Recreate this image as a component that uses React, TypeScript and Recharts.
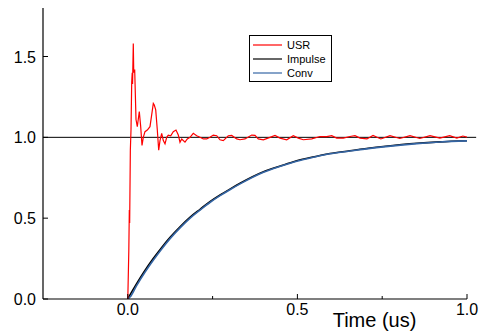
import { LineChart, Line, XAxis, YAxis, Legend, ReferenceLine, Label } from "recharts"

const FONT = "'Liberation Sans', Arial, sans-serif"

// axis ticks
const timeTicks = [0, 0.25, 0.5, 0.75, 1.0]
const majorTimeTicks = [0, 0.5, 1.0]
const valueTicks = [0, 0.5, 1.0, 1.5]

// USR (measured step response, red)
const usrTime = [
  0, 0.003, 0.0045, 0.0055, 0.0075, 0.0095, 0.0115, 0.013, 0.014, 0.0162, 0.0175, 0.0203,
  0.0242, 0.028, 0.0339, 0.038, 0.0419, 0.0457, 0.0507, 0.0575, 0.0654, 0.0705, 0.0752,
  0.0781, 0.0823, 0.087, 0.0911, 0.0949, 0.0999, 0.1047, 0.1097, 0.1147, 0.1194, 0.1265,
  0.1341, 0.1421, 0.1489, 0.1539, 0.1589, 0.1686, 0.1754, 0.1834, 0.1931, 0.2031, 0.2129,
  0.2226, 0.2326, 0.2423, 0.2521, 0.2621, 0.2718, 0.2815, 0.2963, 0.3063, 0.3211, 0.3308,
  0.3455, 0.3653, 0.375, 0.3847, 0.3995, 0.4192, 0.434, 0.4487, 0.4685, 0.4879, 0.5027,
  0.5174, 0.5422, 0.5666, 0.5864, 0.6011, 0.6159, 0.6353, 0.6551, 0.6698, 0.6846, 0.705,
  0.723, 0.746, 0.773, 0.802, 0.832, 0.861, 0.891, 0.92, 0.949, 0.97, 0.988, 1.003,
]
const usrValue = [
  0, 0.3, 0.55, 0.47, 0.92, 1.05, 1.34, 1.4, 1.33, 1.58, 1.4, 1.42,
  1.11, 1.066, 1.16, 1.066, 0.95, 1.0, 1.035, 1.045, 1.066, 1.14, 1.21,
  1.2, 1.17, 1.045, 0.92, 0.98, 1.025, 0.98, 0.96, 1.0, 1.014, 1.01,
  1.035, 1.045, 1.014, 0.97, 0.99, 0.97, 0.99, 1.0, 1.025, 1.01, 1.0,
  0.99, 0.99, 1.0, 1.014, 1.01, 0.985, 0.98, 1.01, 1.012, 0.99, 0.985,
  0.99, 1.014, 1.012, 0.99, 0.985, 1.0, 1.012, 0.995, 0.985, 1.01, 0.995,
  0.985, 0.99, 1.005, 1.005, 1.01, 0.995, 0.995, 1.005, 1.01, 0.995, 0.99,
  1.012, 0.99, 1.01, 0.993, 1.01, 0.993, 1.01, 0.995, 1.01, 0.995, 1.008, 1.0,
]

// Impulse (black) and Conv (blue) responses
const stepTime = [
  0, 0.0065, 0.026, 0.051, 0.075, 0.1, 0.124, 0.154, 0.183, 0.213, 0.242, 0.272, 0.301,
  0.331, 0.4, 0.45, 0.498, 0.55, 0.596, 0.655, 0.685, 0.753, 0.852, 0.92, 1.0,
]
const impulseValue = [
  0, 0.025, 0.095, 0.178, 0.25, 0.319, 0.38, 0.447, 0.505, 0.555, 0.602, 0.643, 0.68,
  0.716, 0.787, 0.823, 0.855, 0.88, 0.9, 0.917, 0.926, 0.943, 0.963, 0.972, 0.979,
]
const convValue = [
  0, 0.012, 0.083, 0.167, 0.24, 0.31, 0.372, 0.44, 0.499, 0.55, 0.597, 0.639, 0.676,
  0.712, 0.784, 0.821, 0.852, 0.878, 0.898, 0.915, 0.924, 0.941, 0.961, 0.971, 0.978,
]

// horizontal unity line
const unityLine = [
  { x: -0.25, y: 1 },
  { x: 1.027, y: 1 },
]

const usrData = usrTime.map((t, i) => ({ t, v: usrValue[i] }))
const impulseData = stepTime.map((t, i) => ({ t, v: impulseValue[i] }))
const convData = stepTime.map((t, i) => ({ t, v: convValue[i] }))

const legendItems = [
  { name: "USR", color: "#ff0000" },
  { name: "Impulse", color: "#000000" },
  { name: "Conv", color: "#3465a4" },
]

function TimeTick({ x, y, payload }: any) {
  const major = majorTimeTicks.includes(payload.value)
  return (
    <g>
      <line x1={x} x2={x} y1={y - (major ? 5 : 3)} y2={y} stroke="#000" strokeWidth={1} />
      {major && (
        <text x={x} y={y + 16} textAnchor="middle" fontSize={16} fontFamily={FONT} fill="#000">
          {payload.value.toFixed(1)}
        </text>
      )}
    </g>
  )
}

function ValueTick({ x, y, payload }: any) {
  return (
    <g>
      <line x1={x} x2={x + 5} y1={y} y2={y} stroke="#000" strokeWidth={1} />
      <text x={x - 7} y={y + 6} textAnchor="end" fontSize={16} fontFamily={FONT} fill="#000">
        {payload.value.toFixed(1)}
      </text>
    </g>
  )
}

function TimeLabel({ viewBox }: any) {
  return (
    <text
      x={viewBox.x + viewBox.width * 0.782}
      y={viewBox.y + 28}
      textAnchor="middle"
      fontSize={20}
      fontFamily={FONT}
      fill="#000"
    >
      Time (us)
    </text>
  )
}

function LegendBox() {
  return (
    <div
      style={{
        border: "1px solid #000",
        background: "#fff",
        padding: "2px 4px 1px 3px",
        fontFamily: FONT,
        fontSize: 11,
        color: "#000",
        width: 74,
      }}
    >
      {legendItems.map((item) => (
        <div key={item.name} style={{ display: "flex", alignItems: "center", height: 14 }}>
          <svg width={29} height={14} style={{ marginRight: 5 }}>
            <line x1={0} x2={29} y1={7} y2={7} stroke={item.color} strokeWidth={1.2} />
          </svg>
          <span style={{ lineHeight: "14px" }}>{item.name}</span>
        </div>
      ))}
    </div>
  )
}

export default function App() {
  return (
    <div style={{ position: "absolute", left: 0, top: 0, width: 484, height: 334, background: "#fff" }}>
      <LineChart width={484} height={334} margin={{ top: 8, right: 17, bottom: 0, left: 0 }}>
        <XAxis
          dataKey="t"
          type="number"
          domain={[-0.25, 1.0]}
          allowDataOverflow
          ticks={timeTicks}
          interval={0}
          tickSize={0}
          tickMargin={0}
          tickLine={false}
          tick={<TimeTick />}
          height={35}
          axisLine={{ stroke: "#000", strokeWidth: 1.2 }}
        >
          <Label content={<TimeLabel />} />
        </XAxis>
        <YAxis
          type="number"
          domain={[0, 1.8]}
          allowDataOverflow
          ticks={valueTicks}
          interval={0}
          tickSize={0}
          tickMargin={0}
          tickLine={false}
          tick={<ValueTick />}
          width={43}
          axisLine={{ stroke: "#000", strokeWidth: 1.2 }}
        />
        <ReferenceLine segment={unityLine} ifOverflow="visible" stroke="#000" strokeWidth={1} />
        <Line
          data={impulseData}
          dataKey="v"
          name="Impulse"
          type="monotone"
          stroke="#000000"
          strokeWidth={1.6}
          dot={false}
          activeDot={false}
          isAnimationActive={false}
        />
        <Line
          data={convData}
          dataKey="v"
          name="Conv"
          type="monotone"
          stroke="#3465a4"
          strokeWidth={1.6}
          dot={false}
          activeDot={false}
          isAnimationActive={false}
        />
        <Line
          data={usrData}
          dataKey="v"
          name="USR"
          type="linear"
          stroke="#ff0000"
          strokeWidth={1.2}
          dot={false}
          activeDot={false}
          isAnimationActive={false}
        />
        <Legend
          layout="vertical"
          align="center"
          verticalAlign="middle"
          content={<LegendBox />}
          wrapperStyle={{ left: 249, top: 35, width: 82 }}
        />
      </LineChart>
    </div>
  )
}
